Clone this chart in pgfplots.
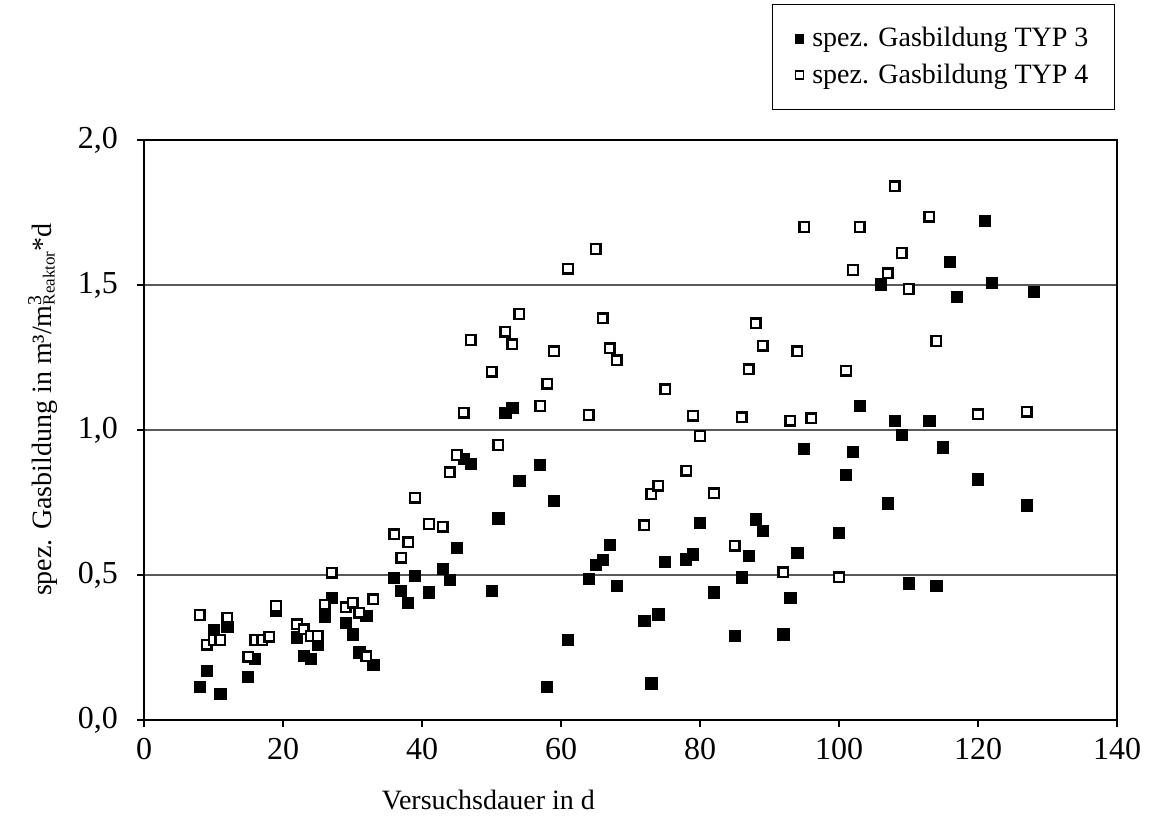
\documentclass[border=0pt]{standalone}
\usepackage{pgfplots}
\pgfplotsset{compat=1.18}
\usepackage{fontspec}
\setmainfont{Liberation Serif}

\pgfplotstableread{
x y
8 0.115
9 0.17
10 0.31
11 0.09
12 0.32
15 0.15
16 0.21
19 0.375
22 0.285
23 0.22
24 0.21
25 0.26
26 0.355
27 0.42
29 0.335
30 0.295
31 0.233
32 0.36
33 0.19
36 0.49
37 0.445
38 0.405
39 0.497
41 0.44
43 0.52
44 0.483
45 0.594
46 0.90
47 0.883
50 0.445
51 0.695
52 1.06
53 1.075
54 0.825
57 0.88
58 0.113
59 0.756
61 0.276
64 0.486
65 0.534
66 0.552
67 0.603
68 0.462
72 0.341
73 0.126
74 0.364
75 0.546
78 0.554
79 0.571
80 0.68
82 0.44
85 0.29
86 0.492
87 0.567
88 0.692
89 0.652
92 0.295
93 0.422
94 0.577
95 0.934
100 0.646
101 0.845
102 0.925
103 1.083
106 1.502
107 0.747
108 1.032
109 0.983
110 0.471
113 1.031
114 0.462
115 0.94
116 1.58
117 1.46
120 0.83
121 1.722
122 1.506
127 0.74
128 1.477
}\typdrei

\pgfplotstableread{
x y
8 0.362
9 0.259
10 0.276
11 0.276
12 0.353
15 0.218
16 0.276
17 0.276
18 0.287
19 0.393
22 0.33
23 0.313
24 0.29
25 0.29
26 0.397
27 0.508
29 0.389
30 0.405
31 0.37
32 0.22
33 0.416
36 0.641
37 0.56
38 0.613
39 0.767
41 0.676
43 0.667
44 0.854
45 0.914
46 1.06
47 1.31
50 1.201
51 0.948
52 1.339
53 1.296
54 1.40
57 1.083
58 1.159
59 1.272
61 1.556
64 1.052
65 1.624
66 1.385
67 1.282
68 1.241
72 0.672
73 0.779
74 0.808
75 1.141
78 0.859
79 1.049
80 0.979
82 0.782
85 0.601
86 1.044
87 1.21
88 1.368
89 1.291
92 0.509
93 1.032
94 1.272
95 1.70
96 1.04
100 0.492
101 1.205
102 1.552
103 1.70
107 1.54
108 1.84
109 1.61
110 1.486
113 1.735
114 1.307
120 1.054
127 1.063
}\typvier

\begin{document}
\begin{tikzpicture}
\begin{axis}[
  name=ax,
  width=486.5pt, height=290pt, scale only axis,
  xmin=0, xmax=140, ymin=0, ymax=2,
  xtick={0,20,...,140},
  ytick={0,0.5,1,1.5,2},
  tick pos=left, tick align=outside,
  major tick length=3.5pt,
  tick style={black, line width=0.7pt},
  axis line style={black, line width=1.4pt},
  ymajorgrids,
  major grid style={gray!70!black, line width=0.6pt},
  /pgf/number format/assume math mode=true,
  ticklabel style={font=\fontsize{16}{18}\selectfont},
  yticklabel style={/pgf/number format/fixed, /pgf/number format/fixed zerofill, /pgf/number format/precision=1, /pgf/number format/use comma, xshift=-6pt},
  xticklabel style={/pgf/number format/1000 sep={}, yshift=-2pt},
  xlabel={Versuchsdauer in d},
  ylabel={spez. Gasbildung in m³/m\rlap{\textsuperscript{3}}\raisebox{-0.25ex}{\fontsize{8.5}{9}\selectfont Reaktor}*d},
  label style={font=\fontsize{14}{16}\selectfont},
  xlabel style={at={(axis description cs:0.354,0)}, anchor=center, yshift=-40pt},
  ylabel style={at={(axis description cs:-0.104,0.535)}, anchor=center},
  legend style={at={(1,1)}, anchor=south east, yshift=15pt, xshift=-1pt,
    draw=black, line width=0.6pt, font=\fontsize{14}{16}\selectfont,
    inner xsep=11pt, inner ysep=9.5pt, row sep=3pt, cells={anchor=west}},
  legend image code/.code={\draw[#1] plot coordinates {(0pt,0pt)}; \path (-2pt,0pt) (4pt,0pt);},
  legend image post style={mark size=2pt, line width=0.8pt},
]
\addplot[only marks, mark=square*, mark size=2.8pt, draw=black, fill=black, line width=0.4pt]
  table[x=x, y=y] {\typdrei};
\addlegendentry{spez. Gasbildung TYP 3}
\addplot[only marks, mark=square*, mark size=2.4pt, draw=black, fill=white, line width=1.2pt]
  table[x=x, y=y] {\typvier};
\addlegendentry{spez. Gasbildung TYP 4}
\end{axis}
\path ([shift={(-72pt,-52.5pt)}]ax.south west) rectangle ([shift={(503.5pt,360pt)}]ax.south west);
\end{tikzpicture}
\end{document}
